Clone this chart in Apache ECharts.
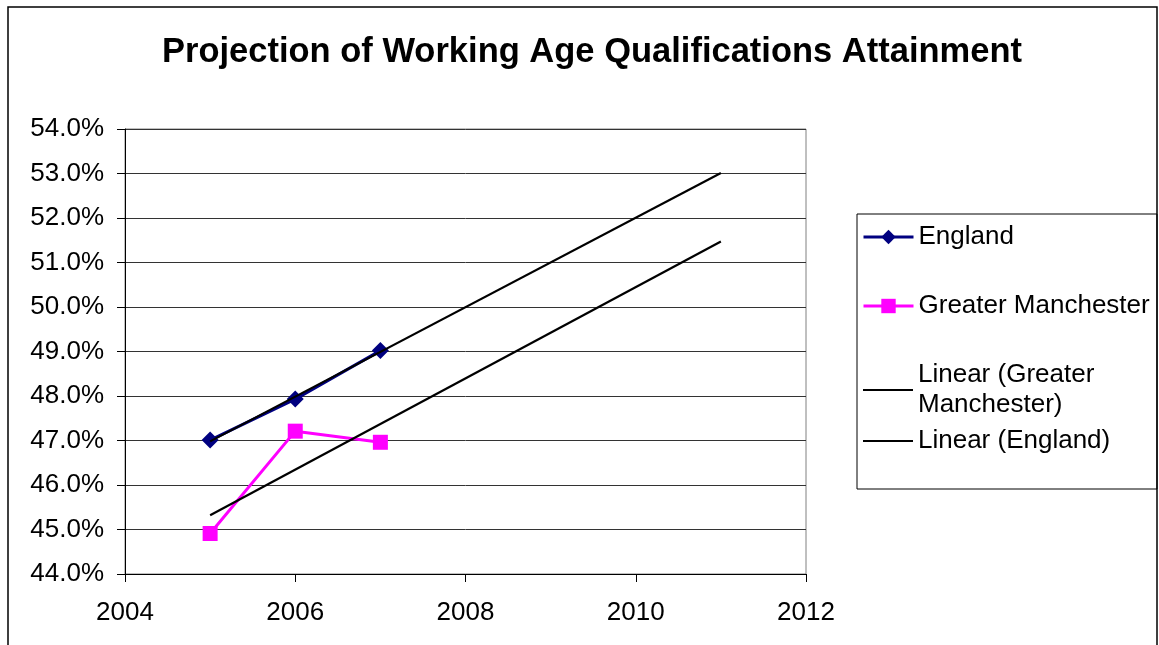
<!DOCTYPE html>
<html>
<head>
<meta charset="utf-8">
<script src="https://cdn.jsdelivr.net/npm/echarts@6/dist/echarts.min.js"></script>
<style>
  html, body { margin: 0; padding: 0; background: #fff; }
  #chart { width: 1159px; height: 645px; }
</style>
</head>
<body>
<div id="chart"></div>
<script>
// Qualification attainment (%) of the working-age population
const years = [2005, 2006, 2007];
const england = [47.01, 47.93, 49.02];
const greaterManchester = [44.91, 47.21, 46.96];

// Linear trend lines projected to 2011 (start and end points)
const trendGM = [[2005, 45.32], [2011, 51.47]];
const trendEngland = [[2005, 46.98], [2011, 53.01]];

// Axis ranges
const xTicks = { min: 2004, max: 2012, interval: 2 };
const yTicks = { min: 44, max: 54, interval: 1 };

const seriesNames = ['England', 'Greater Manchester', 'Linear (Greater\nManchester)', 'Linear (England)'];

const FONT = 'Liberation Sans, Arial, sans-serif';

const chart = echarts.init(document.getElementById('chart'), null, { renderer: 'canvas' });

// One legend block per entry so each row sits at its own height
function legendAt(name, top, lineWidth, hideSymbol) {
  return {
    data: [{ name: name, itemStyle: hideSymbol ? { opacity: 0 } : undefined }],
    left: 862,
    top: top,
    itemWidth: 50,
    itemHeight: 18,
    itemGap: 0,
    padding: 0,
    selectedMode: false,
    lineStyle: { width: lineWidth },
    textStyle: { fontFamily: FONT, fontSize: 26, color: '#000', lineHeight: 30 }
  };
}

chart.setOption({
  animation: false,
  backgroundColor: '#fff',
  title: {
    text: 'Projection of Working Age Qualifications Attainment',
    left: 587,
    textAlign: 'center',
    top: 30,
    textStyle: { fontFamily: FONT, fontSize: 34.5, fontWeight: 'bold', color: '#000' }
  },
  graphic: [
    {
      type: 'rect',
      shape: { x: 8, y: 7, width: 1149, height: 660 },
      style: { fill: 'none', stroke: '#000', lineWidth: 1.5 },
      silent: true
    },
    {
      type: 'rect',
      shape: { x: 857, y: 214, width: 300, height: 275 },
      style: { fill: 'none', stroke: '#000', lineWidth: 1 },
      silent: true
    }
  ],
  legend: [
    legendAt(seriesNames[0], 222, 3, false),
    legendAt(seriesNames[1], 291, 3, false),
    legendAt(seriesNames[2], 360, 2, true),
    legendAt(seriesNames[3], 426, 2, true)
  ],
  grid: {
    left: 125, right: 353, top: 129, bottom: 71,
    show: true, borderColor: '#808080', borderWidth: 1, containLabel: false
  },
  xAxis: {
    type: 'value',
    min: xTicks.min, max: xTicks.max, interval: xTicks.interval,
    axisLine: { lineStyle: { color: '#000', width: 1 } },
    axisTick: { show: true, length: 8, lineStyle: { color: '#000' } },
    splitLine: { show: false },
    axisLabel: {
      margin: 26,
      fontFamily: FONT, fontSize: 26, color: '#000',
      formatter: v => String(v)
    }
  },
  yAxis: {
    type: 'value',
    min: yTicks.min, max: yTicks.max, interval: yTicks.interval,
    axisLine: { show: true, lineStyle: { color: '#000', width: 1 } },
    axisTick: { show: true, length: 8, lineStyle: { color: '#000' } },
    splitLine: { show: true, lineStyle: { color: '#333', width: 1 } },
    axisLabel: {
      margin: 21,
      fontFamily: FONT, fontSize: 26, color: '#000',
      formatter: v => v.toFixed(1) + '%'
    }
  },
  series: [
    {
      name: seriesNames[0],
      type: 'line',
      data: years.map((y, i) => [y, england[i]]),
      symbol: 'diamond', symbolSize: 17,
      lineStyle: { color: '#000080', width: 3 },
      itemStyle: { color: '#000080' },
      z: 3
    },
    {
      name: seriesNames[1],
      type: 'line',
      data: years.map((y, i) => [y, greaterManchester[i]]),
      symbol: 'rect', symbolSize: 15,
      lineStyle: { color: '#FF00FF', width: 3 },
      itemStyle: { color: '#FF00FF' },
      z: 3
    },
    {
      name: seriesNames[2],
      type: 'line',
      data: trendGM,
      symbol: 'none',
      lineStyle: { color: '#000', width: 2.2 },
      itemStyle: { color: '#000' },
      z: 4
    },
    {
      name: seriesNames[3],
      type: 'line',
      data: trendEngland,
      symbol: 'none',
      lineStyle: { color: '#000', width: 2.2 },
      itemStyle: { color: '#000' },
      z: 4
    }
  ]
});
</script>
</body>
</html>
